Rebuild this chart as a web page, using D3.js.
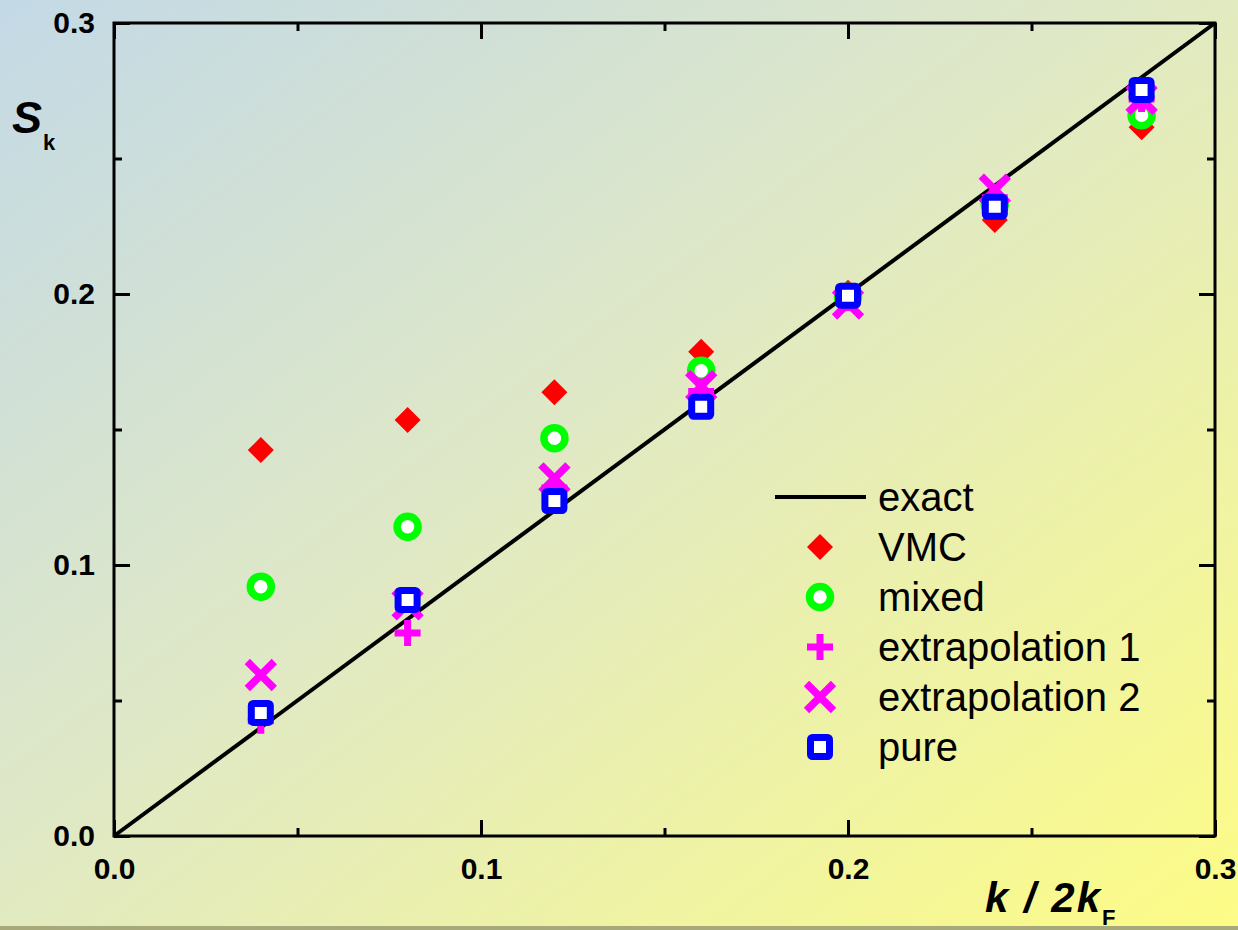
<!DOCTYPE html>
<html>
<head>
<meta charset="utf-8">
<script src="https://cdn.jsdelivr.net/npm/d3@7"></script>
<style>
  html, body { margin: 0; padding: 0; overflow: hidden; }
  svg { display: block; }
  text { font-family: "Liberation Sans", Arial, sans-serif; }
</style>
</head>
<body>
<svg id="chart" width="1238" height="930"></svg>
<script>
// k / 2kF sample points
const kValues = [0.04, 0.08, 0.12, 0.16, 0.20, 0.24, 0.28];

// S(k) estimates
const vmc    = [0.1424, 0.1535, 0.1637, 0.1787, 0.2005, 0.2273, 0.2615];
const mixed  = [0.0920, 0.1141, 0.1468, 0.1717, 0.1990, 0.2330, 0.2660];
const extra1 = [0.0425, 0.0749, 0.1284, 0.1640, 0.1985, 0.2355, 0.2720];
const extra2 = [0.0594, 0.0855, 0.1320, 0.1660, 0.1965, 0.2385, 0.2720];
const pure   = [0.0454, 0.0871, 0.1236, 0.1584, 0.1994, 0.2322, 0.2753];

// exact result S(k) = k / 2kF
const exactX = [0.0, 0.3];

const majorTicks = [0.0, 0.1, 0.2, 0.3];
const minorTicks = [0.05, 0.15, 0.25];

const legendLabels = ["exact", "VMC", "mixed", "extrapolation 1", "extrapolation 2", "pure"];

const svg = d3.select("#chart");
const W = 1238, H = 930;
const plotLeft = 114, plotRight = 1215, plotTop = 23, plotBottom = 836;

// background wash
const defs = svg.append("defs");
const grad = defs.append("linearGradient")
  .attr("id", "bg").attr("x1", "0").attr("y1", "0").attr("x2", "1").attr("y2", "1");
grad.append("stop").attr("offset", "0%").attr("stop-color", "#c3d9e6");
grad.append("stop").attr("offset", "45%").attr("stop-color", "#dfe8c6");
grad.append("stop").attr("offset", "100%").attr("stop-color", "#fdfc86");
svg.append("rect").attr("width", W).attr("height", H).attr("fill", "url(#bg)");
svg.append("rect").attr("x", 0).attr("y", 926).attr("width", W).attr("height", 4).attr("fill", "#a8a97a");

const x = d3.scaleLinear().domain([0, 0.3]).range([plotLeft, plotRight]);
const y = d3.scaleLinear().domain([0, 0.3]).range([plotBottom, plotTop]);

const fmt = d3.format(".1f");
const axisStyle = g => {
  g.select(".domain").remove();
  g.selectAll(".tick line").attr("stroke", "#000").attr("stroke-width", 3);
  g.selectAll(".tick text")
    .attr("fill", "#000")
    .style("font-family", "'Liberation Sans', Arial, sans-serif")
    .style("font-size", "30px")
    .style("font-weight", "bold");
};

// major ticks with labels (left, bottom), inward ticks on all sides
svg.append("g").attr("transform", `translate(${plotLeft},0)`)
  .call(d3.axisLeft(y).tickValues(majorTicks).tickFormat(fmt).tickSize(-16).tickPadding(19))
  .call(axisStyle);
svg.append("g").attr("transform", `translate(0,${plotBottom})`)
  .call(d3.axisBottom(x).tickValues(majorTicks).tickFormat(fmt).tickSize(-16).tickPadding(22))
  .call(axisStyle);
svg.append("g").attr("transform", `translate(${plotRight},0)`)
  .call(d3.axisRight(y).tickValues(majorTicks).tickFormat("").tickSize(-16))
  .call(axisStyle);
svg.append("g").attr("transform", `translate(0,${plotTop})`)
  .call(d3.axisTop(x).tickValues(majorTicks).tickFormat("").tickSize(-16))
  .call(axisStyle);

// minor ticks
svg.append("g").attr("transform", `translate(${plotLeft},0)`)
  .call(d3.axisLeft(y).tickValues(minorTicks).tickFormat("").tickSize(-8)).call(axisStyle);
svg.append("g").attr("transform", `translate(0,${plotBottom})`)
  .call(d3.axisBottom(x).tickValues(minorTicks).tickFormat("").tickSize(-8)).call(axisStyle);
svg.append("g").attr("transform", `translate(${plotRight},0)`)
  .call(d3.axisRight(y).tickValues(minorTicks).tickFormat("").tickSize(-8)).call(axisStyle);
svg.append("g").attr("transform", `translate(0,${plotTop})`)
  .call(d3.axisTop(x).tickValues(minorTicks).tickFormat("").tickSize(-8)).call(axisStyle);

// frame
svg.append("rect")
  .attr("x", x(0)).attr("y", y(0.3))
  .attr("width", x(0.3) - x(0)).attr("height", y(0) - y(0.3))
  .attr("fill", "none").attr("stroke", "#000").attr("stroke-width", 3);

// exact line
svg.append("path")
  .datum(exactX)
  .attr("d", d3.line().x(d => x(d)).y(d => y(d)))
  .attr("stroke", "#000").attr("stroke-width", 4).attr("fill", "none");

// marker drawers
const markers = {
  diamond: (g) => g.append("path")
      .attr("d", d3.symbol().type(d3.symbolSquare).size(338)())
      .attr("transform", "rotate(45)")
      .attr("fill", "#ff0000"),
  circle: (g) => g.append("circle").attr("r", 10.5)
      .attr("fill", "#ffffff").attr("stroke", "#00ff00").attr("stroke-width", 7.5),
  plus: (g) => g.append("path")
      .attr("d", "M-13,0H13M0,-13V13")
      .attr("stroke", "#ff00ff").attr("stroke-width", 7).attr("fill", "none"),
  cross: (g) => g.append("path")
      .attr("d", "M-13.5,-13.5L13.5,13.5M-13.5,13.5L13.5,-13.5")
      .attr("stroke", "#ff00ff").attr("stroke-width", 7.5).attr("fill", "none"),
  square: (g) => g.append("rect")
      .attr("x", -9.5).attr("y", -9.5).attr("width", 19).attr("height", 19).attr("rx", 2)
      .attr("fill", "#ffffff").attr("stroke", "#0000ff").attr("stroke-width", 7)
};

const series = [
  { values: vmc, marker: "diamond" },
  { values: mixed, marker: "circle" },
  { values: extra1, marker: "plus" },
  { values: extra2, marker: "cross" },
  { values: pure, marker: "square" }
];

series.forEach(s => {
  svg.append("g").selectAll("g")
    .data(kValues.map((k, i) => [k, s.values[i]]))
    .join("g")
    .attr("transform", d => `translate(${x(d[0])},${y(d[1])})`)
    .each(function () { markers[s.marker](d3.select(this)); });
});

// legend
const lg = svg.append("g").attr("transform", "translate(820,497)");
legendLabels.forEach((label, i) => {
  const row = lg.append("g").attr("transform", `translate(0,${i * 50})`);
  if (i === 0) {
    row.append("line").attr("x1", -45).attr("x2", 46).attr("y1", 0).attr("y2", 0)
      .attr("stroke", "#000").attr("stroke-width", 4);
  } else {
    markers[series[i - 1].marker](row);
  }
  row.append("text")
    .attr("x", 58).attr("y", 0).attr("dy", "0.35em")
    .style("font-size", "40px")
    .attr("fill", "#000")
    .text(label);
});

// axis titles
const yt = svg.append("text").attr("x", 12).attr("y", 133)
  .style("font-weight", "bold").attr("fill", "#000");
yt.append("tspan").style("font-style", "italic").style("font-size", "45px").text("S");
yt.append("tspan").attr("dx", 1).attr("dy", 17).style("font-size", "22px").text("k");

const xt = svg.append("text").attr("x", 985).attr("y", 912)
  .style("font-weight", "bold").attr("fill", "#000");
xt.append("tspan").style("font-style", "italic").style("font-size", "42px")
  .style("letter-spacing", "2px").text("k / 2k");
xt.append("tspan").attr("dx", 0).attr("dy", 13).style("font-size", "22px").text("F");
</script>
</body>
</html>
